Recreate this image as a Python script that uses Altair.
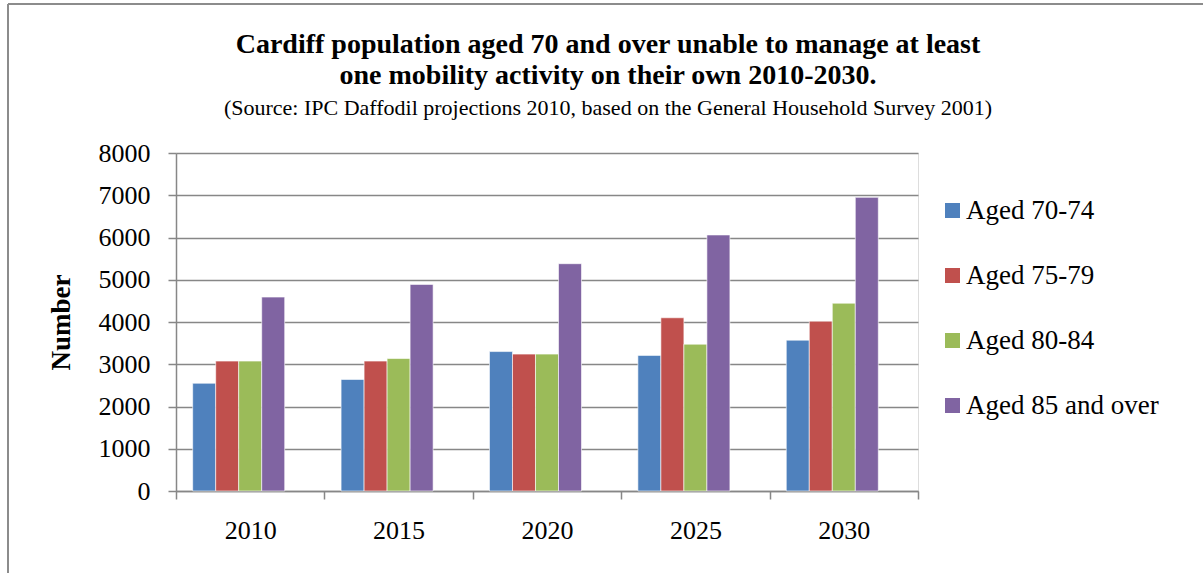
import altair as alt
import pandas as pd

# Projected counts of people aged 70+ unable to manage a mobility activity alone
years = ["2010", "2015", "2020", "2025", "2030"]
groups = ["Aged 70-74", "Aged 75-79", "Aged 80-84", "Aged 85 and over"]
aged_70_74 = [2550, 2640, 3300, 3210, 3570]
aged_75_79 = [3075, 3075, 3240, 4100, 4020]
aged_80_84 = [3075, 3135, 3240, 3475, 4445]
aged_85_over = [4590, 4890, 5380, 6060, 6950]
colors = ["#4F81BD", "#C0504D", "#9BBB59", "#8064A2"]
y_ticks = [0, 1000, 2000, 3000, 4000, 5000, 6000, 7000, 8000]

rows = []
for g, vals in zip(groups, [aged_70_74, aged_75_79, aged_80_84, aged_85_over]):
    for yr, v in zip(years, vals):
        rows.append({"year": yr, "group": g, "number": v})
df = pd.DataFrame(rows)

FONT = "Liberation Serif"
GRID = "#878787"
W, H = 742, 338

bars = alt.Chart(df).mark_bar(stroke="white", strokeWidth=0.6).encode(
    x=alt.X(
        "year:N",
        sort=years,
        title=None,
        scale=alt.Scale(paddingInner=0, paddingOuter=0),
        axis=alt.Axis(
            labelAngle=0,
            tickBand="extent",
            tickSize=8,
            tickColor=GRID,
            tickWidth=1.5,
            domainColor=GRID,
            domainWidth=1.5,
            labelFont=FONT,
            labelFontSize=26,
            labelColor="black",
            labelPadding=18,
            grid=False,
        ),
    ),
    # a fifth, empty slot keeps each group of four bars left of centre
    xOffset=alt.XOffset(
        "group:N",
        scale=alt.Scale(domain=groups + ["spacer"], paddingInner=0, paddingOuter=0.725),
    ),
    y=alt.Y(
        "number:Q",
        title="Number",
        scale=alt.Scale(domain=[0, 8000], nice=False),
        axis=alt.Axis(
            values=y_ticks,
            format="d",
            grid=True,
            gridColor=GRID,
            gridWidth=1.5,
            domainColor=GRID,
            domainWidth=1.5,
            tickColor=GRID,
            tickWidth=1.5,
            tickSize=8,
            labelFont=FONT,
            labelFontSize=26,
            labelColor="black",
            labelPadding=18,
            titleFont=FONT,
            titleFontSize=27,
            titleFontWeight="bold",
            titleColor="black",
            titlePadding=23,
        ),
    ),
    color=alt.Color(
        "group:N",
        scale=alt.Scale(domain=groups, range=colors),
        legend=alt.Legend(
            title=None,
            orient="none",
            legendX=763,
            legendY=44,
            symbolType="square",
            symbolSize=225,
            symbolStrokeWidth=0,
            labelFont=FONT,
            labelFontSize=27,
            labelColor="black",
            labelOffset=0,
            labelLimit=400,
            rowPadding=37,
        ),
    ),
)

# outer frame of the chart box (left and top edges)
frame_df = pd.DataFrame({"k": [0]})
left_edge = alt.Chart(frame_df).mark_rule(color="#8c8c8c", strokeWidth=2).encode(
    x=alt.value(-168), y=alt.value(-149), y2=alt.value(420)
)
top_edge = alt.Chart(frame_df).mark_rule(color="#8c8c8c", strokeWidth=2).encode(
    x=alt.value(-168), x2=alt.value(1027), y=alt.value(-149)
)

chart = alt.layer(left_edge, top_edge, bars).properties(
    width=W,
    height=H,
    padding={"left": 176, "top": 153, "right": 285, "bottom": 82},
    autosize=alt.AutoSizeParams(type="none"),
    title=alt.TitleParams(
        text=[
            "Cardiff population aged 70 and over unable to manage at least",
            "one mobility activity on their own 2010-2030.",
        ],
        subtitle="(Source: IPC Daffodil projections 2010, based on the General Household Survey 2001)",
        font=FONT,
        fontSize=28,
        fontWeight="bold",
        color="black",
        lineHeight=31,
        subtitleFont=FONT,
        subtitleFontSize=22,
        subtitleColor="black",
        subtitlePadding=8,
        anchor="middle",
        frame="group",
        dx=61,
        offset=-116,
    ),
).configure_view(stroke=None).configure(background="white")

chart.save("out.html", embed_options={"renderer": "svg", "actions": False})
